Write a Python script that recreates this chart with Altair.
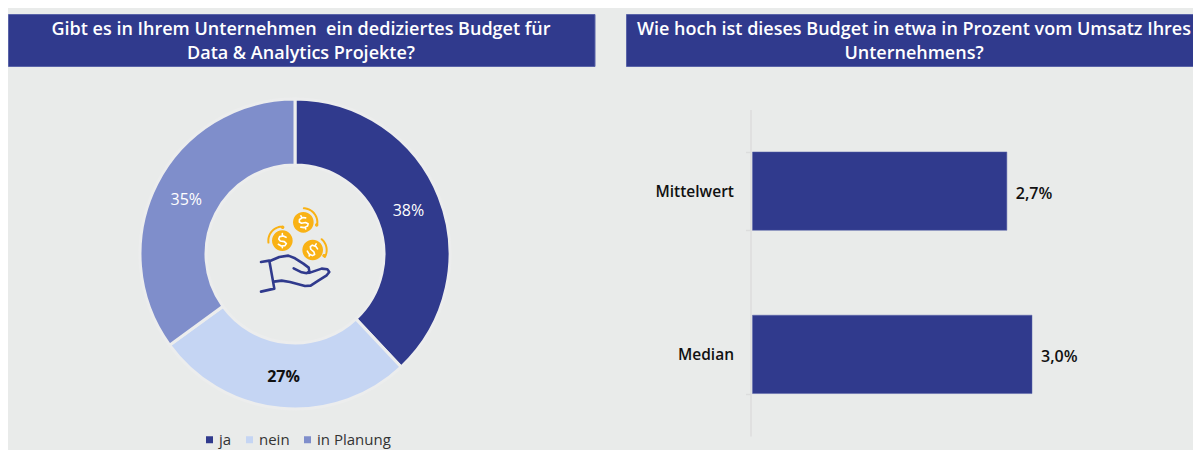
import math
import altair as alt
import pandas as pd

# ---- data -------------------------------------------------------------
answers = ["ja", "nein", "in Planung"]
shares = [38, 27, 35]
share_labels = ["38%", "27%", "35%"]
measures = ["Mittelwert", "Median"]
budget = [2.73, 3.0]
budget_labels = ["2,7%", "3,0%"]
title_left = ["Gibt es in Ihrem Unternehmen\u00a0 ein dediziertes Budget für", "Data & Analytics Projekte?"]
title_right = ["Wie hoch ist dieses Budget in etwa in Prozent vom Umsatz Ihres", "Unternehmens?"]

NAVY, LIGHT, MID = "#303A8D", "#C5D5F3", "#7F8ECB"
BG = "#E9EBEA"
GOLD = "#F9B215"
FONT = "Open Sans"
RIGHT = 618  # left edge of the right-hand panel inside the chart

# ---- icon glyphs (symbol paths in the unit box) ------------------------
def u(p):
    return f"{(p[0]-165)/110:.3f} {(p[1]-250)/110:.3f}"

def poly(pts, close=False):
    return "M" + "L".join(u(p) for p in pts) + ("Z" if close else "")

def arc(cx, cy, r, a0, a1, n=24):
    return [(cx + r*math.cos(math.radians(a0+(a1-a0)*i/n)),
             cy + r*math.sin(math.radians(a0+(a1-a0)*i/n))) for i in range(n+1)]

coins = [(127, 152, 0), (190, 97, -20), (218, 180, 30)]
discs = "".join(poly(arc(x, y, 31, 0, 360, 28)[:-1], True) for x, y, _ in coins)
halos = (poly(arc(127, 152, 42, 172, 268)) + poly(arc(190, 97, 42, -88, 10)) + poly(arc(218, 180, 42, -50, 30)))
dots = (poly(arc(128, 112, 3, 0, 360, 8)) + poly(arc(230, 105, 3, 0, 360, 8)) + poly(arc(252, 197, 3, 0, 360, 8)))

s_curve = [(11,-10),(3,-14),(-8,-12),(-11,-5),(-6,1),(6,3),(12,9),(8,15),(-3,16),(-12,11)]
stubs = [[(0,-21),(0,-14)], [(0,16),(0,21)]]
def rot(p, c, deg):
    a = math.radians(deg)
    return (c[0]+p[0]*math.cos(a)-p[1]*math.sin(a), c[1]+p[0]*math.sin(a)+p[1]*math.cos(a))
dollars = ""
for x, y, d in coins:
    dollars += poly([rot(p, (x, y), d) for p in s_curve])
    for st in stubs:
        dollars += poly([rot(p, (x, y), d) for p in st])

hand = (poly([(63,216),(88,212),(103,296),(63,305)])
        + poly([(88,214),(118,201),(145,197),(165,205),(190,221),(206,233),(208,244),(200,250),(185,247),(161,235)])
        + poly([(195,249),(210,248),(245,236),(262,238),(268,246),(260,256),(235,272),(212,287),(195,288),(150,276),(125,272),(102,275)]))

ICON_SIZE = (220/3) ** 2
one = pd.DataFrame({"k": [0]})
def glyph(path, color, filled=False, width=2.2):
    kw = dict(fill=color, opacity=1) if filled else dict(stroke=color, strokeWidth=width, strokeCap="round", strokeJoin="round", opacity=1)
    return alt.Chart(one).mark_point(shape=path, size=ICON_SIZE, filled=filled, **kw).encode(x=alt.value(287), y=alt.value(265.3))

# ---- title bars --------------------------------------------------------
def title_bar(lines, x0, w, cx):
    bar = alt.Chart(one).mark_rect(color=NAVY, stroke="#5A64A8", strokeWidth=1).encode(
        x=alt.value(x0 + 0.5), x2=alt.value(x0 + w), y=alt.value(6.5), y2=alt.value(58.5))
    df = pd.DataFrame({"t": lines, "row": [0, 1]})
    style = dict(font=FONT, fontSize=18, fontWeight=600, color="white", align="center", baseline="middle")
    l1 = alt.Chart(df).transform_filter("datum.row==0").mark_text(**style).encode(
        text="t:N", x=alt.value(x0 + cx), y=alt.value(22))
    l2 = alt.Chart(df).transform_filter("datum.row==1").mark_text(**style).encode(
        text="t:N", x=alt.value(x0 + cx), y=alt.value(46))
    return [bar, l1, l2]

# ---- donut -------------------------------------------------------------
pie_df = pd.DataFrame({"a": answers, "v": shares, "lab": share_labels, "o": [0, 1, 2]})
stacked = alt.Chart(pie_df).transform_stack(stack="v", as_=["s0", "s1"], groupby=[], sort=[alt.SortField("o", order="ascending")]).transform_calculate(mid="(datum.s0+datum.s1)/2")
theta_scale = alt.Scale(domain=[0, 100])
donut = stacked.mark_arc(innerRadius=89, outerRadius=155, stroke="#ECEDED", strokeWidth=3).encode(
    theta=alt.Theta("s0:Q", scale=theta_scale),
    theta2="s1:Q",
    x=alt.value(287), y=alt.value(246),
    color=alt.Color("a:N", scale=alt.Scale(domain=answers, range=[NAVY, LIGHT, MID]),
                    legend=alt.Legend(orient="none", legendX=194, legendY=424, direction="horizontal", title=None,
                                      symbolType="square", symbolSize=49, symbolStrokeWidth=0, symbolOpacity=1,
                                      labelFont=FONT, labelFontSize=15, labelColor="#333333", columnPadding=10, labelOffset=2)),
)
def pie_text(expr, color, weight):
    return stacked.transform_filter(expr).mark_text(font=FONT, fontSize=16, fontWeight=weight, color=color, radius=122, align="center", baseline="middle", dy=1.5).encode(
        theta=alt.Theta("mid:Q", scale=theta_scale), x=alt.value(287), y=alt.value(246), text="lab:N")

# ---- bars --------------------------------------------------------------
bar_df = pd.DataFrame({"m": measures, "v": budget, "lab": budget_labels})
ysc = alt.Scale(domain=measures, range=[101.5, 428], paddingInner=0.52, paddingOuter=0.26)
xsc = alt.Scale(domain=[0, 3], range=[744.5, 1024], nice=False)
y_axis = alt.Axis(offset=-742.5, domainColor="#DCDDDD", tickColor="#DCDDDD", domainWidth=1.5, tickWidth=1.5,
                  tickBand="extent", tickSize=5, labelPadding=12, labelFont=FONT, labelFontSize=15.5,
                  labelFontWeight=600, labelColor="#111111", grid=False, title=None)
bars = alt.Chart(bar_df).mark_bar(color=NAVY, stroke="#5A64A8", strokeWidth=0.5).encode(
    x=alt.X("v:Q", scale=xsc, axis=None), y=alt.Y("m:N", sort=measures, scale=ysc, axis=y_axis))
vals = alt.Chart(bar_df).mark_text(font=FONT, fontSize=16, fontWeight=600, color="#111111", align="left", baseline="middle", dx=9, dy=3).encode(
    x=alt.X("v:Q", scale=xsc, axis=None), y=alt.Y("m:N", sort=measures, scale=ysc, axis=y_axis), text="lab:N")

chart = alt.layer(
    *title_bar(title_left, 0, 587, 293),
    *title_bar(title_right, RIGHT, 575, 288),
    donut,
    pie_text("datum.a!='nein'", "white", 400),
    pie_text("datum.a=='nein'", "#111111", 700),
    glyph(halos, GOLD, width=2), glyph(dots, GOLD, width=1.5),
    glyph(discs, GOLD, filled=True),
    glyph(dollars, "white", width=1.6),
    glyph(hand, NAVY, width=2.6),
    bars, vals,
).properties(width=1185, height=442, padding=0, background=BG,
             autosize=alt.AutoSizeParams(type="none")).configure_view(stroke=None)

chart.save("out.html", embed_options={"renderer": "svg", "actions": False})
